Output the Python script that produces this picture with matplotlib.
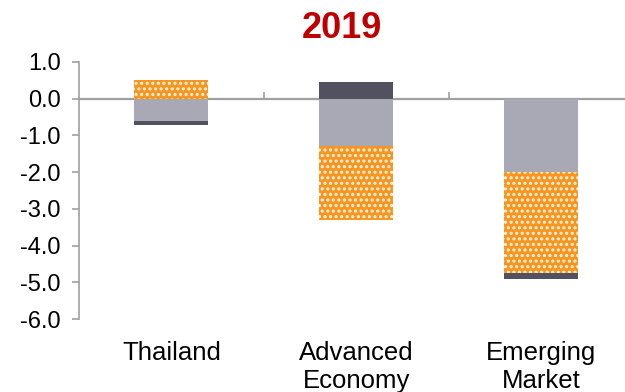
import numpy as np
import matplotlib
matplotlib.use('Agg')
import matplotlib.pyplot as plt

plt.rcParams['font.family'] = ['Liberation Sans', 'DejaVu Sans']
plt.rcParams['hatch.linewidth'] = 1.5

categories = ['Thailand', 'Advanced\nEconomy', 'Emerging\nMarket']
gray_vals = [-0.6, -1.3, -2.0]
orange_vals = [0.5, -2.0, -2.75]
dark_vals = [-0.12, 0.45, -0.15]
yticks = [1.0, 0.0, -1.0, -2.0, -3.0, -4.0, -5.0, -6.0]

AXIS_GRAY = '#A0A0A0'

fig = plt.figure(figsize=(6.25, 3.92), dpi=100)
ax = fig.add_axes([79 / 625, 1 - 319 / 392, 554.5 / 625, 257 / 392])

x = np.arange(len(categories))
pos_base = np.zeros(len(categories))
neg_base = np.zeros(len(categories))

series = [
    (gray_vals, dict(color='#A9A9B5')),
    (orange_vals, dict(color='#F8951E', hatch='...', edgecolor='#FFF3E2')),
    (dark_vals, dict(color='#52515F')),
]
for vals, style in series:
    vals = np.array(vals)
    bottoms = np.where(vals >= 0, pos_base, neg_base)
    ax.bar(x, vals, width=0.4, bottom=bottoms, linewidth=0, **style)
    pos_base = pos_base + np.clip(vals, 0, None)
    neg_base = neg_base + np.clip(vals, None, 0)

ax.set_xlim(-0.5, 2.5)
ax.set_ylim(-6.0, 1.0)
ax.set_yticks(yticks)
ax.set_yticklabels([f'{v:.1f}' for v in yticks])
ax.set_xticks(x)
ax.set_xticklabels(categories)

for s in ['top', 'right', 'bottom']:
    ax.spines[s].set_visible(False)
ax.spines['left'].set_color(AXIS_GRAY)
ax.spines['left'].set_linewidth(1.2)
ax.tick_params(axis='y', direction='out', length=5, width=1.2, color=AXIS_GRAY,
               labelsize=17, pad=8)
ax.tick_params(axis='x', length=0, labelsize=18.5, pad=16)

# zero line with category separator ticks
ymin, ymax = ax.get_ylim()
zero = ax.secondary_xaxis((0 - ymin) / (ymax - ymin))
zero.set_xticks([0.5, 1.5, 2.5])
zero.set_xticklabels([])
for sp in zero.spines.values():
    sp.set_color(AXIS_GRAY)
    sp.set_linewidth(1.6)
zero.tick_params(direction='out', length=5, width=1.2, color=AXIS_GRAY)

fig.text(342 / 625, 1 - 28 / 392, '2019', color='#C00000', fontsize=26,
         fontweight='bold', ha='center', va='center')

fig.savefig('out.png', dpi=100)
